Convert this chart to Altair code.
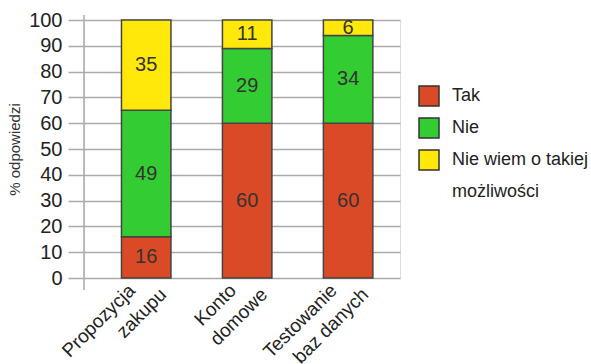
import altair as alt
import pandas as pd

PADCH = "\u00a0\u2800"
categories = ["Propozycja" + PADCH + "|zakupu", "Konto" + PADCH + "|domowe", "Testowanie" + PADCH + "|baz danych"]
series = ["Tak", "Nie", "Nie wiem o takiej|możliwości"]
tak = [16, 60, 60]
nie = [49, 29, 34]
niewiem = [35, 11, 6]
colors = ["#DA4A26", "#33CC33", "#FFE80A"]
y_ticks = [0, 10, 20, 30, 40, 50, 60, 70, 80, 90, 100]

rows = []
for i, c in enumerate(categories):
    for j, (s, vals) in enumerate(zip(series, [tak, nie, niewiem])):
        rows.append({"cat": c, "series": s, "value": vals[i], "ord": j})
df = pd.DataFrame(rows)

FONT = "Liberation Sans"

x_scale = alt.Scale(paddingInner=0.51, paddingOuter=0.32, align=0.58)
y_scale = alt.Scale(domain=[0, 100], nice=False)

x_axis = alt.Axis(labelAngle=-45, labelExpr="split(datum.label, '|')",
                  labelFontSize=19, labelColor="#222", labelFont=FONT,
                  ticks=False, domain=False, labelPadding=-11, labelLineHeight=25,
                  labelOffset=-7)
y_axis = alt.Axis(values=y_ticks, tickSize=16, tickColor="#aaa", tickWidth=1.5,
                  gridColor="#aaa", gridWidth=1.5, domain=False, labelOverlap=False,
                  labelFontSize=20, labelColor="#222", labelFont=FONT,
                  labelPadding=6, titleFont=FONT, titleFontSize=15,
                  titleFontWeight="normal", titleColor="#333", titlePadding=6)

base = alt.Chart(df).transform_stack(
    stack="value", groupby=["cat"], as_=["y0", "y1"],
    sort=[alt.SortField("ord", order="ascending")],
).transform_calculate(mid="(datum.y0 + datum.y1) / 2")

bars = base.mark_bar(stroke="#444", strokeWidth=1.5).encode(
    x=alt.X("cat:N", sort=categories, title=None, scale=x_scale, axis=x_axis),
    y=alt.Y("y0:Q", scale=y_scale, title="% odpowiedzi", axis=y_axis),
    y2="y1:Q",
    color=alt.Color("series:N", sort=series,
                    scale=alt.Scale(domain=series, range=colors),
                    legend=alt.Legend(title=None, orient="none", legendX=334, legendY=65,
                                      symbolType="square", symbolSize=400,
                                      symbolStrokeColor="#333", symbolStrokeWidth=1.5,
                                      labelFontSize=18, labelFont=FONT, labelColor="#222",
                                      labelExpr="split(datum.label, '|')",
                                      labelLimit=300, rowPadding=6, labelOffset=12)),
    order=alt.Order("ord:Q"),
)

texts = base.mark_text(fontSize=20, font=FONT, color="#333").encode(
    x=alt.X("cat:N", sort=categories, title=None, scale=x_scale, axis=x_axis),
    y=alt.Y("mid:Q", scale=y_scale, title="% odpowiedzi", axis=y_axis),
    text="value:Q",
)

axis_line = alt.Chart(pd.DataFrame({"a": [0]})).mark_rule(color="#aaa", strokeWidth=1.5).encode(
    x=alt.value(0), y=alt.value(-5), y2=alt.value(270)
)

chart = alt.layer(bars, texts, axis_line).properties(
    width=316, height=258,
    padding={"left": 84, "top": 20, "right": 191, "bottom": 86},
    autosize=alt.AutoSizeParams(type="none"),
).configure_view(stroke=None).configure(style={"guide-label": {"lineHeight": 32}})

chart.save("out.html", embed_options={"renderer": "svg", "actions": False})
